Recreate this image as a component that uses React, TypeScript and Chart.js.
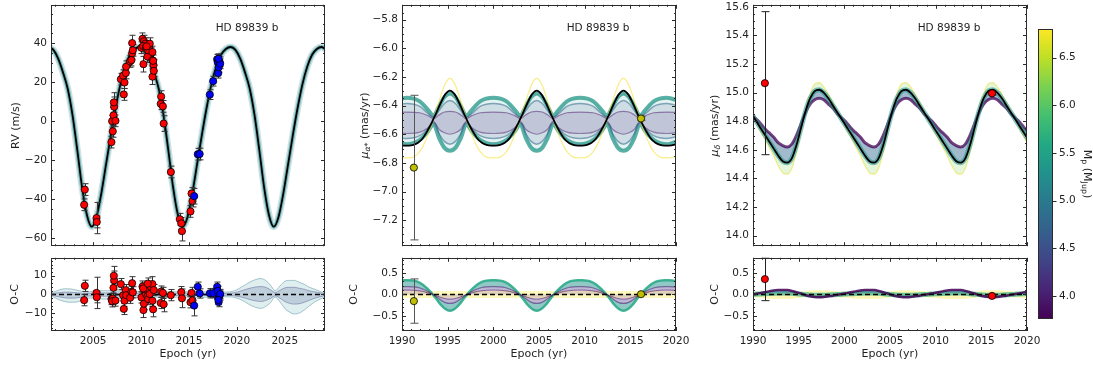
import React, { useEffect, useRef } from 'react';
import { Chart, registerables } from 'chart.js';

Chart.register(...registerables);

const FONT = "'DejaVu Sans', 'Liberation Sans', sans-serif";
const INK = '#1f1f1f';
const FRAME = '#2b2b2b';
const TICK_SIZE = 10.5;
const TITLE_SIZE = 11;
const YW = 60;
Chart.defaults.font.family = FONT;

// ---------------- axis ranges & tick labels ----------------
const RV_XMIN = 2000.6, RV_XMAX = 2029.2;
const MU_XMIN = 1990, MU_XMAX = 2020;
const RV_YMIN = -64, RV_YMAX = 59.6;
const RVOC_YMIN = -19.6, RVOC_YMAX = 19.6;
const MUA_YMIN = -7.382, MUA_YMAX = -5.696;
const MUD_YMIN = 13.926, MUD_YMAX = 15.614;
const OC_YMIN = -0.85, OC_YMAX = 0.85;
const MASS_MIN = 3.76, MASS_MAX = 6.8;

const RV_XTICKS = [2005, 2010, 2015, 2020, 2025];
const MU_XTICKS = [1990, 1995, 2000, 2005, 2010, 2015, 2020];
const RV_YTICKS = [-60, -40, -20, 0, 20, 40];
const RVOC_YTICKS = [-10, 0, 10];
const MUA_YTICKS = [-7.2, -7.0, -6.8, -6.6, -6.4, -6.2, -6.0, -5.8];
const MUD_YTICKS = [14.0, 14.2, 14.4, 14.6, 14.8, 15.0, 15.2, 15.4, 15.6];
const OC_YTICKS = [-0.5, 0, 0.5];
const MASS_TICKS = [4.0, 4.5, 5.0, 5.5, 6.0, 6.5];
const ZERO = [0, 0];

// ---------------- RV data ----------------
const RV_RED_T = [2004.06, 2004.13, 2005.35, 2005.38, 2006.91, 2007.05, 2006.98, 2007.12, 2007.19, 2007.16, 2007.33, 2008.2, 2007.89, 2008.13, 2008.27, 2008.41, 2008.44, 2008.86, 2009.0, 2009.07, 2009.14, 2009.07, 2010.15, 2010.3, 2010.43, 2010.04, 2010.22, 2010.5, 2010.85, 2011.02, 2010.25, 2010.67, 2011.19, 2011.3, 2011.19, 2010.74, 2010.91, 2011.19, 2011.26, 2011.33, 2010.57, 2012.1, 2012.05, 2012.28, 2012.36, 2013.11, 2014.05, 2014.2, 2014.27, 2015.16, 2015.27, 2015.37];
const RV_RED_V = [-42.8, -35.0, -49.6, -51.6, -10.7, -5.2, 0.0, 3.0, 7.4, 9.6, 0.2, 13.7, 21.5, 23.3, 19.8, 24.7, 27.9, 30.6, 31.3, 34.8, 36.3, 40.0, 42.2, 41.0, 39.7, 37.6, 38.5, 38.0, 37.6, 34.6, 29.2, 33.1, 31.2, 28.7, 22.8, 36.3, 39.7, 35.4, 30.9, 25.8, 38.3, 12.6, 8.9, 7.6, -1.2, -26.0, -50.2, -52.3, -56.3, -46.2, -37.0, -40.9];
const RV_RED_E = [3, 3, 8, 3, 3, 3, 3, 4, 5, 5, 3, 3, 3, 3, 3, 3, 3, 3, 3, 3, 3, 4, 3, 3, 3, 3, 3, 3, 3, 3, 4, 3, 3, 3, 4, 3, 3, 3, 3, 3, 3, 3, 3, 3, 4, 3, 3, 3, 5, 3, 3, 3];
const RV_BLUE_T = [2015.55, 2015.92, 2016.12, 2017.18, 2017.53, 2017.94, 2018.0, 2018.05, 2018.1, 2018.2, 2018.26, 2018.08];
const RV_BLUE_V = [-38.4, -16.9, -16.8, 13.6, 20.5, 31.7, 30.3, 24.6, 27.6, 30.4, 29.4, 32.0];
const RV_BLUE_E = [4, 3, 3, 2.5, 2.5, 2.5, 2.5, 2.5, 2.5, 2.5, 2.5, 2.5];

const RVOC_RED_T = [2004.13, 2004.06, 2005.35, 2005.38, 2006.91, 2007.05, 2006.98, 2007.12, 2007.19, 2007.16, 2007.33, 2008.2, 2007.89, 2008.13, 2008.27, 2008.41, 2008.44, 2008.86, 2009.0, 2009.07, 2009.14, 2010.04, 2010.15, 2010.25, 2010.3, 2010.43, 2010.5, 2010.57, 2010.67, 2010.74, 2010.85, 2010.91, 2011.02, 2011.19, 2011.19, 2011.26, 2011.33, 2010.22, 2010.7, 2012.1, 2012.05, 2012.28, 2012.36, 2013.11, 2014.2, 2014.27, 2015.16, 2015.27, 2015.37];
const RVOC_RED_V = [4.6, -3.1, 0.8, -1.5, -2.5, -2.2, -3.7, 3.5, 7.5, 10.0, -3.3, -7.8, 5.5, -0.5, -3.4, 2.3, -0.4, -1.8, 1.4, 6.0, 1.1, -1.6, 4.2, -8.4, -5.0, 1.9, 0.2, 2.5, -1.1, -2.5, 2.8, 0.2, 4.1, 5.5, -3.4, -8.0, 2.3, 3.2, 5.8, 1.5, -4.6, 0.8, -5.3, -0.4, 1.2, -2.1, -4.2, 0.8, -3.2];
const RVOC_RED_E = [3, 3, 8.4, 3, 3, 3, 3, 3, 5, 5, 3, 3, 3, 3, 3, 3, 3, 3, 3, 3.5, 3, 3, 3, 4, 3, 3, 3, 3, 3, 3, 3, 3, 3, 4, 3, 4, 3, 3, 3, 3, 3, 3, 4, 3, 3, 5, 3, 3, 3];
const RVOC_BLUE_T = [2015.55, 2015.92, 2016.12, 2017.18, 2017.53, 2017.94, 2018.0, 2018.05, 2018.1, 2018.2, 2018.26, 2018.08];
const RVOC_BLUE_V = [-6.0, 4.1, 0.5, 0.6, 0.7, 4.1, 1.9, -2.1, -4.1, -0.6, 0.2, -3.0];
const RVOC_BLUE_E = [5.5, 2.5, 2.5, 2.5, 2.5, 2.5, 2.5, 2.5, 2.5, 2.5, 2.5, 2.5];

// best-fit RV orbit
const RV_MODEL_T = [2000.35, 2000.85, 2001.35, 2001.85, 2002.35, 2002.85, 2003.35, 2003.85, 2004.35, 2004.85,
  2005.35, 2005.85, 2006.35, 2006.85, 2007.35, 2007.85, 2008.35, 2008.85, 2009.35, 2009.85,
  2010.35, 2010.85, 2011.35, 2011.85, 2012.35, 2012.85, 2013.35, 2013.85, 2014.35, 2014.85,
  2015.35, 2015.85, 2016.35, 2016.85, 2017.35, 2017.85, 2018.35, 2018.85, 2019.35, 2019.85,
  2020.35, 2020.85, 2021.35, 2021.85, 2022.35, 2022.85, 2023.35, 2023.85, 2024.35, 2024.85,
  2025.35, 2025.85, 2026.35, 2026.85, 2027.35, 2027.85, 2028.35, 2028.85, 2029.35];
const RV_MODEL_V = [38, 36.5, 32, 25, 16.5, 3, -15, -34, -48, -54,
  -49, -37, -22, -7, 7, 19, 28, 34, 37,
  38, 36.5, 32, 25, 16.5, 3, -15, -34, -48, -54,
  -49, -37, -22, -7, 7, 19, 28, 34, 37,
  38, 36.5, 32, 25, 16.5, 3, -15, -34, -48, -54,
  -49, -37, -22, -7, 7, 19, 28, 34, 37,
  38, 36.5];

// RV residual spread of posterior orbits
const RVOC_T = [2000.5, 2001, 2001.5, 2002, 2002.5, 2003, 2003.5, 2004, 2004.5, 2005, 2005.5, 2006, 2006.5, 2007, 2007.5, 2008, 2008.5,
  2009, 2009.5, 2010, 2010.5, 2011, 2011.5, 2012, 2012.5, 2013, 2013.5, 2014, 2014.5, 2015, 2015.5, 2016, 2016.5, 2017, 2017.5, 2018, 2018.5,
  2019, 2019.5, 2020, 2020.5, 2021, 2021.5, 2022, 2022.5, 2023, 2023.5, 2024, 2024.5, 2025, 2025.5, 2026, 2026.5, 2027, 2027.5, 2028, 2028.5, 2029, 2029.5];
const RVOC_OUT_HI = [0.5, 1.5, 2.5, 3.0, 3.0, 2.6, 2.0, 1.5, 1.3, 1.8, 2.0, 2.0, 2.0, 1.9, 1.8, 1.7, 1.6,
  1.5, 1.5, 1.5, 1.4, 1.4, 1.4, 1.4, 1.4, 1.4, 1.4, 1.4, 1.4, 1.4, 1.4, 1.4, 1.4, 1.4, 1.4, 1.3, 1.3,
  1.3, 1.6, 2.5, 4.0, 5.5, 7.0, 8.0, 8.5, 7.5, 5.0, 2.0, 4.5, 7.0, 7.5, 7.5, 6.5, 5.5, 4.0, 3.0, 2.0, 1.0, 0.5];
const RVOC_OUT_LO = [-0.5, -1.8, -3.0, -3.8, -4.2, -4.2, -3.8, -3.0, -2.0, -2.0, -2.3, -2.5, -2.5, -2.4, -2.2, -2.0, -1.8,
  -1.6, -1.5, -1.5, -1.5, -1.5, -1.5, -1.5, -1.5, -1.5, -1.5, -1.5, -1.5, -1.5, -1.5, -1.5, -1.5, -1.5, -1.5, -1.4, -1.3,
  -1.3, -1.4, -2.0, -3.0, -4.5, -6.0, -7.0, -7.5, -6.5, -4.5, -1.5, -4.0, -7.5, -9.5, -10.5, -10.0, -8.5, -6.5, -4.5, -3.0, -1.8, -1.0];
const RVOC_IN_HI = [0.2, 0.6, 1.0, 1.2, 1.2, 1.0, 0.8, 0.6, 0.5, 0.7, 0.8, 0.8, 0.8, 0.8, 0.7, 0.7, 0.6,
  0.6, 0.6, 0.6, 0.6, 0.6, 0.6, 0.6, 0.6, 0.6, 0.6, 0.6, 0.6, 0.6, 0.6, 0.6, 0.6, 0.6, 0.6, 0.6, 0.6,
  0.5, 0.7, 1.2, 2.0, 2.8, 3.5, 4.0, 4.2, 3.8, 2.5, 1.0, 2.2, 3.5, 3.8, 3.8, 3.3, 2.8, 2.0, 1.5, 1.0, 0.5, 0.3];
const RVOC_IN_LO = [-0.2, -0.8, -1.4, -1.8, -2.0, -2.0, -1.7, -1.3, -0.9, -0.8, -0.9, -1.0, -1.0, -0.9, -0.9, -0.8, -0.7,
  -0.6, -0.6, -0.6, -0.6, -0.6, -0.6, -0.6, -0.6, -0.6, -0.6, -0.6, -0.6, -0.6, -0.6, -0.6, -0.6, -0.6, -0.6, -0.6, -0.6,
  -0.5, -0.6, -1.0, -1.5, -2.2, -3.0, -3.5, -3.8, -3.3, -2.2, -0.8, -2.0, -3.8, -4.8, -5.2, -5.0, -4.3, -3.3, -2.3, -1.5, -0.9, -0.5];

// ---------------- proper motion data ----------------
const MUA_T = [1991.3, 2016.17];
const MUA_V = [-6.833, -6.49];
const MUA_E = [0.505, 0.012];
const MUA_OC_V = [-0.155, 0.005];
const MUA_OC_E = [0.515, 0.012];
const MUD_T = [1991.3, 2016.17];
const MUD_V = [15.066, 14.995];
const MUD_E = [0.5, 0.012];
const MUD_OC_V = [0.355, -0.035];
const MUD_OC_E = [0.5, 0.012];

const MU_T = [1989.75, 1990.25, 1990.75, 1991.25, 1991.75, 1992.25, 1992.75, 1993.25, 1993.75, 1994.25, 1994.75, 1995.25, 1995.75, 1996.25, 1996.75, 1997.25, 1997.75, 1998.25, 1998.75, 1999.25, 1999.75,
  2000.25, 2000.75, 2001.25, 2001.75, 2002.25, 2002.75, 2003.25, 2003.75, 2004.25, 2004.75, 2005.25, 2005.75, 2006.25, 2006.75, 2007.25, 2007.75, 2008.25, 2008.75, 2009.25,
  2009.75, 2010.25, 2010.75, 2011.25, 2011.75, 2012.25, 2012.75, 2013.25, 2013.75, 2014.25, 2014.75, 2015.25, 2015.75, 2016.25, 2016.75, 2017.25, 2017.75, 2018.25, 2018.75,
  2019.25, 2019.75, 2020.25];

const MUA_MODEL = [-6.675, -6.68, -6.68, -6.675, -6.66, -6.63, -6.58, -6.52, -6.45, -6.38, -6.32, -6.295, -6.32, -6.38, -6.45, -6.52, -6.58, -6.63, -6.66, -6.675, -6.68,
  -6.68, -6.675, -6.66, -6.63, -6.58, -6.52, -6.45, -6.38, -6.32, -6.295, -6.32, -6.38, -6.45, -6.52, -6.58, -6.63, -6.66, -6.675, -6.68,
  -6.68, -6.675, -6.66, -6.63, -6.58, -6.52, -6.45, -6.38, -6.32, -6.295, -6.32, -6.38, -6.45, -6.52, -6.58, -6.63, -6.66, -6.675, -6.68,
  -6.68, -6.675, -6.66];
const MUA_YELLOW = [-6.76, -6.765, -6.765, -6.76, -6.735, -6.69, -6.62, -6.535, -6.43, -6.33, -6.245, -6.21, -6.245, -6.33, -6.43, -6.535, -6.62, -6.69, -6.735, -6.76, -6.765,
  -6.765, -6.76, -6.735, -6.69, -6.62, -6.535, -6.43, -6.33, -6.245, -6.21, -6.245, -6.33, -6.43, -6.535, -6.62, -6.69, -6.735, -6.76, -6.765,
  -6.765, -6.76, -6.735, -6.69, -6.62, -6.535, -6.43, -6.33, -6.245, -6.21, -6.245, -6.33, -6.43, -6.535, -6.62, -6.69, -6.735, -6.76, -6.765,
  -6.765, -6.76, -6.735];
const MUA_OC_TEAL = [0.32, 0.33, 0.33, 0.32, 0.29, 0.23, 0.14, 0.03, -0.10, -0.24, -0.34, -0.38, -0.34, -0.24, -0.10, 0.03, 0.14, 0.23, 0.29, 0.32, 0.33,
  0.33, 0.32, 0.29, 0.23, 0.14, 0.03, -0.10, -0.24, -0.34, -0.38, -0.34, -0.24, -0.10, 0.03, 0.14, 0.23, 0.29, 0.32, 0.33,
  0.33, 0.32, 0.29, 0.23, 0.14, 0.03, -0.10, -0.24, -0.34, -0.38, -0.34, -0.24, -0.10, 0.03, 0.14, 0.23, 0.29, 0.32, 0.33,
  0.33, 0.32, 0.29];
const MUA_OC_PURPLE = [0.175, 0.18, 0.18, 0.175, 0.16, 0.125, 0.08, 0.015, -0.055, -0.13, -0.19, -0.21, -0.19, -0.13, -0.055, 0.015, 0.08, 0.125, 0.16, 0.175, 0.18,
  0.18, 0.175, 0.16, 0.125, 0.08, 0.015, -0.055, -0.13, -0.19, -0.21, -0.19, -0.13, -0.055, 0.015, 0.08, 0.125, 0.16, 0.175, 0.18,
  0.18, 0.175, 0.16, 0.125, 0.08, 0.015, -0.055, -0.13, -0.19, -0.21, -0.19, -0.13, -0.055, 0.015, 0.08, 0.125, 0.16, 0.175, 0.18,
  0.18, 0.175, 0.16];
const MUA_OC_DARK = [0.095, 0.1, 0.1, 0.095, 0.085, 0.07, 0.04, 0.01, -0.03, -0.07, -0.1, -0.11, -0.1, -0.07, -0.03, 0.01, 0.04, 0.07, 0.085, 0.095, 0.1,
  0.1, 0.095, 0.085, 0.07, 0.04, 0.01, -0.03, -0.07, -0.1, -0.11, -0.1, -0.07, -0.03, 0.01, 0.04, 0.07, 0.085, 0.095, 0.1,
  0.1, 0.095, 0.085, 0.07, 0.04, 0.01, -0.03, -0.07, -0.1, -0.11, -0.1, -0.07, -0.03, 0.01, 0.04, 0.07, 0.085, 0.095, 0.1,
  0.1, 0.095, 0.085];

// envelopes of the posterior mu_alpha curves (lens shapes)
const ENV_T = [1989.05, 1990.5, 1991.95, 1992.85, 1993.45, 1994.05, 1994.65, 1995.25, 1995.85, 1996.45, 1997.05, 1997.65, 1998.55,
  2000.0, 2001.45, 2002.35, 2002.95, 2003.55, 2004.15, 2004.75, 2005.35, 2005.95, 2006.55, 2007.15, 2008.05,
  2009.5, 2010.95, 2011.85, 2012.45, 2013.05, 2013.65, 2014.25, 2014.85, 2015.45, 2016.05, 2016.65, 2017.55, 2019.0, 2020.45];
const MUA_ENV_HI = [-6.37, -6.345, -6.37, -6.43, -6.47, -6.405, -6.34, -6.315, -6.34, -6.405, -6.47, -6.43, -6.37,
  -6.345, -6.37, -6.43, -6.47, -6.405, -6.34, -6.315, -6.34, -6.405, -6.47, -6.43, -6.37,
  -6.345, -6.37, -6.43, -6.47, -6.405, -6.34, -6.315, -6.34, -6.405, -6.47, -6.43, -6.37, -6.345, -6.37];
const MUA_ENV_LO = [-6.64, -6.67, -6.64, -6.58, -6.53, -6.625, -6.695, -6.715, -6.695, -6.625, -6.53, -6.58, -6.64,
  -6.67, -6.64, -6.58, -6.53, -6.625, -6.695, -6.715, -6.695, -6.625, -6.53, -6.58, -6.64,
  -6.67, -6.64, -6.58, -6.53, -6.625, -6.695, -6.715, -6.695, -6.625, -6.53, -6.58, -6.64, -6.67, -6.64];
const MUA_MID_HI = [-6.405, -6.385, -6.405, -6.455, -6.48, -6.435, -6.385, -6.365, -6.385, -6.435, -6.48, -6.455, -6.405,
  -6.385, -6.405, -6.455, -6.48, -6.435, -6.385, -6.365, -6.385, -6.435, -6.48, -6.455, -6.405,
  -6.385, -6.405, -6.455, -6.48, -6.435, -6.385, -6.365, -6.385, -6.435, -6.48, -6.455, -6.405, -6.385, -6.405];
const MUA_MID_LO = [-6.61, -6.63, -6.61, -6.56, -6.52, -6.595, -6.65, -6.67, -6.65, -6.595, -6.52, -6.56, -6.61,
  -6.63, -6.61, -6.56, -6.52, -6.595, -6.65, -6.67, -6.65, -6.595, -6.52, -6.56, -6.61,
  -6.63, -6.61, -6.56, -6.52, -6.595, -6.65, -6.67, -6.65, -6.595, -6.52, -6.56, -6.61, -6.63, -6.61];
const MUA_IN_HI = [-6.45, -6.445, -6.45, -6.47, -6.49, -6.465, -6.445, -6.44, -6.445, -6.465, -6.49, -6.47, -6.45,
  -6.445, -6.45, -6.47, -6.49, -6.465, -6.445, -6.44, -6.445, -6.465, -6.49, -6.47, -6.45,
  -6.445, -6.45, -6.47, -6.49, -6.465, -6.445, -6.44, -6.445, -6.465, -6.49, -6.47, -6.45, -6.445, -6.45];
const MUA_IN_LO = [-6.585, -6.595, -6.585, -6.555, -6.51, -6.565, -6.59, -6.6, -6.59, -6.565, -6.51, -6.555, -6.585,
  -6.595, -6.585, -6.555, -6.51, -6.565, -6.59, -6.6, -6.59, -6.565, -6.51, -6.555, -6.585,
  -6.595, -6.585, -6.555, -6.51, -6.565, -6.59, -6.6, -6.59, -6.565, -6.51, -6.555, -6.585, -6.595, -6.585];

const MUD_MODEL = [14.86, 14.81, 14.76, 14.71, 14.66, 14.61, 14.56, 14.52,
  14.51, 14.54, 14.63, 14.75, 14.87, 14.96, 15.01, 15.02, 15.0, 14.96, 14.91, 14.86, 14.81, 14.76, 14.71, 14.66, 14.61, 14.56, 14.52,
  14.51, 14.54, 14.63, 14.75, 14.87, 14.96, 15.01, 15.02, 15.0, 14.96, 14.91, 14.86, 14.81, 14.76, 14.71, 14.66, 14.61, 14.56, 14.52,
  14.51, 14.54, 14.63, 14.75, 14.87, 14.96, 15.01, 15.02, 15.0, 14.96, 14.91, 14.86, 14.81, 14.76, 14.71, 14.66];
const MUD_PURPLE = [14.85, 14.82, 14.79, 14.75, 14.72, 14.69, 14.65, 14.63,
  14.62, 14.64, 14.7, 14.78, 14.86, 14.92, 14.95, 14.96, 14.95, 14.92, 14.89, 14.85, 14.82, 14.79, 14.75, 14.72, 14.69, 14.65, 14.63,
  14.62, 14.64, 14.7, 14.78, 14.86, 14.92, 14.95, 14.96, 14.95, 14.92, 14.89, 14.85, 14.82, 14.79, 14.75, 14.72, 14.69, 14.65, 14.63,
  14.62, 14.64, 14.7, 14.78, 14.86, 14.92, 14.95, 14.96, 14.95, 14.92, 14.89, 14.85, 14.82, 14.79, 14.75, 14.72];
const MUD_YELLOW = [14.87, 14.81, 14.74, 14.68, 14.62, 14.56, 14.49, 14.44,
  14.43, 14.47, 14.58, 14.73, 14.88, 14.99, 15.06, 15.07, 15.04, 14.99, 14.93, 14.87, 14.81, 14.74, 14.68, 14.62, 14.56, 14.49, 14.44,
  14.43, 14.47, 14.58, 14.73, 14.88, 14.99, 15.06, 15.07, 15.04, 14.99, 14.93, 14.87, 14.81, 14.74, 14.68, 14.62, 14.56, 14.49, 14.44,
  14.43, 14.47, 14.58, 14.73, 14.88, 14.99, 15.06, 15.07, 15.04, 14.99, 14.93, 14.87, 14.81, 14.74, 14.68, 14.62];
const MUD_OC_PURPLE = [-0.01, 0.01, 0.03, 0.05, 0.07, 0.09, 0.1, 0.105,
  0.1, 0.08, 0.05, 0.02, -0.02, -0.045, -0.06, -0.065, -0.06, -0.045, -0.03, -0.01, 0.01, 0.03, 0.05, 0.07, 0.09, 0.1, 0.105,
  0.1, 0.08, 0.05, 0.02, -0.02, -0.045, -0.06, -0.065, -0.06, -0.045, -0.03, -0.01, 0.01, 0.03, 0.05, 0.07, 0.09, 0.1, 0.105,
  0.1, 0.08, 0.05, 0.02, -0.02, -0.045, -0.06, -0.065, -0.06, -0.045, -0.03, -0.01, 0.01, 0.03, 0.05, 0.07];
const MUD_OC_TEAL = [-0.005, 0.005, 0.01, 0.015, 0.02, 0.025, 0.03, 0.03,
  0.03, 0.025, 0.015, 0.005, -0.005, -0.015, -0.02, -0.02, -0.02, -0.015, -0.01, -0.005, 0.005, 0.01, 0.015, 0.02, 0.025, 0.03, 0.03,
  0.03, 0.025, 0.015, 0.005, -0.005, -0.015, -0.02, -0.02, -0.02, -0.015, -0.01, -0.005, 0.005, 0.01, 0.015, 0.02, 0.025, 0.03, 0.03,
  0.03, 0.025, 0.015, 0.005, -0.005, -0.015, -0.02, -0.02, -0.02, -0.015, -0.01, -0.005, 0.005, 0.01, 0.015, 0.02];
const MUD_OC_YELLOW = [0.005, -0.005, -0.01, -0.02, -0.03, -0.035, -0.04, -0.04,
  -0.04, -0.03, -0.02, -0.01, 0.01, 0.02, 0.025, 0.025, 0.025, 0.02, 0.01, 0.005, -0.005, -0.01, -0.02, -0.03, -0.035, -0.04, -0.04,
  -0.04, -0.03, -0.02, -0.01, 0.01, 0.02, 0.025, 0.025, 0.025, 0.02, 0.01, 0.005, -0.005, -0.01, -0.02, -0.03, -0.035, -0.04, -0.04,
  -0.04, -0.03, -0.02, -0.01, 0.01, 0.02, 0.025, 0.025, 0.025, 0.02, 0.01, 0.005, -0.005, -0.01, -0.02, -0.03];

const VIRIDIS = ['#440154', '#482475', '#414487', '#355f8d', '#2a788e', '#21918c', '#22a884', '#44bf70', '#7ad151', '#bddf26', '#fde725'];

// ---------------- helpers ----------------
type Part = { t: string; sub?: boolean; it?: boolean };
type Title = { parts: Part[]; side: 'left' | 'bottom' | 'right'; off: number };
type Deco = { xMajor: number[]; xMinor: number; yMajor: number[]; yMinor: number; titles: Title[]; note?: string; colorbar?: boolean };

function pts(xs: number[], ys: number[]) {
  return xs.map((x, i) => ({ x, y: ys[i] }));
}
function fmt(v: number, d: number) {
  const s = Math.abs(v).toFixed(d);
  return (v < -1e-9 ? '\u2212' : '') + s;
}

function drawRich(ctx: CanvasRenderingContext2D, parts: Part[], x: number, y: number, rot: number, size: number) {
  ctx.save();
  ctx.translate(x, y);
  ctx.rotate(rot);
  ctx.textBaseline = 'middle';
  ctx.textAlign = 'left';
  ctx.fillStyle = INK;
  const fontOf = (p: Part) => `${p.it ? 'italic ' : ''}${p.sub ? Math.round(size * 0.72 * 10) / 10 : size}px ${FONT}`;
  const widths = parts.map((p) => {
    ctx.font = fontOf(p);
    return ctx.measureText(p.t).width;
  });
  const total = widths.reduce((s, w) => s + w, 0);
  let cx = -total / 2;
  parts.forEach((p, i) => {
    ctx.font = fontOf(p);
    ctx.fillText(p.t, cx, p.sub ? size * 0.3 : 0);
    cx += widths[i];
  });
  ctx.restore();
}

function makeDeco(cfg: Deco) {
  return {
    id: 'deco',
    beforeDatasetsDraw(chart: any) {
      if (!cfg.colorbar) return;
      const { ctx, chartArea: a } = chart;
      const g = ctx.createLinearGradient(0, a.bottom, 0, a.top);
      VIRIDIS.forEach((c, i) => g.addColorStop(i / (VIRIDIS.length - 1), c));
      ctx.save();
      ctx.fillStyle = g;
      ctx.fillRect(a.left, a.top, a.right - a.left, a.bottom - a.top);
      ctx.restore();
    },
    beforeDatasetDraw(chart: any, args: any) {
      const ds: any = chart.data.datasets[args.index];
      if (!ds.errs) return;
      const { ctx, chartArea: a } = chart;
      const xs = chart.scales.x, ys = chart.scales.y;
      const cap = ds.cap || 3;
      ctx.save();
      ctx.beginPath();
      ctx.rect(a.left, a.top, a.right - a.left, a.bottom - a.top);
      ctx.clip();
      ctx.strokeStyle = ds.errColor || '#333';
      ctx.lineWidth = 1;
      ds.data.forEach((p: any, i: number) => {
        const e = ds.errs[i];
        const x = Math.round(xs.getPixelForValue(p.x)) + 0.5;
        const y1 = ys.getPixelForValue(p.y + e);
        const y2 = ys.getPixelForValue(p.y - e);
        ctx.beginPath();
        ctx.moveTo(x, y1); ctx.lineTo(x, y2);
        ctx.moveTo(x - cap, y1); ctx.lineTo(x + cap, y1);
        ctx.moveTo(x - cap, y2); ctx.lineTo(x + cap, y2);
        ctx.stroke();
      });
      ctx.restore();
    },
    afterDraw(chart: any) {
      const { ctx, chartArea: a } = chart;
      const xs = chart.scales.x, ys = chart.scales.y;
      ctx.save();
      ctx.strokeStyle = FRAME;
      ctx.lineWidth = 1;
      const snap = (v: number) => Math.round(v) + 0.5;
      const seg = (x1: number, y1: number, x2: number, y2: number) => {
        ctx.beginPath(); ctx.moveTo(x1, y1); ctx.lineTo(x2, y2); ctx.stroke();
      };
      if (cfg.colorbar) {
        cfg.yMajor.forEach((v) => {
          const p = snap(ys.getPixelForValue(v));
          seg(a.right, p, a.right + 3.5, p);
        });
      } else {
        const marks = (sc: any, major: number[], step: number, isX: boolean) => {
          const lo = Math.min(sc.min, sc.max), hi = Math.max(sc.min, sc.max);
          const draw = (v: number, len: number) => {
            const p = snap(sc.getPixelForValue(v));
            if (isX) { seg(p, a.bottom, p, a.bottom - len); seg(p, a.top, p, a.top + len); }
            else { seg(a.left, p, a.left + len, p); seg(a.right, p, a.right - len, p); }
          };
          const n0 = Math.ceil(lo / step - 1e-6), n1 = Math.floor(hi / step + 1e-6);
          for (let n = n0; n <= n1; n++) {
            const v = n * step;
            if (!major.some((m) => Math.abs(m - v) < step / 10)) draw(v, 2);
          }
          major.filter((v) => v >= lo - 1e-9 && v <= hi + 1e-9).forEach((v) => draw(v, 4));
        };
        marks(xs, cfg.xMajor, cfg.xMinor, true);
        marks(ys, cfg.yMajor, cfg.yMinor, false);
      }
      ctx.strokeRect(Math.round(a.left) + 0.5, Math.round(a.top) + 0.5, Math.round(a.right - a.left) - 1, Math.round(a.bottom - a.top) - 1);
      const cy = (a.top + a.bottom) / 2, cx = (a.left + a.right) / 2;
      cfg.titles.forEach((t) => {
        if (t.side === 'left') drawRich(ctx, t.parts, a.left - t.off, cy, -Math.PI / 2, TITLE_SIZE);
        else if (t.side === 'right') drawRich(ctx, t.parts, a.right + t.off, cy, Math.PI / 2, TITLE_SIZE);
        else drawRich(ctx, t.parts, cx, a.bottom + t.off, 0, TITLE_SIZE);
      });
      if (cfg.note) {
        ctx.font = `${TICK_SIZE}px ${FONT}`;
        ctx.fillStyle = INK;
        ctx.textAlign = 'center';
        ctx.textBaseline = 'middle';
        ctx.fillText(cfg.note, a.left + 196, a.top + 23);
      }
      ctx.restore();
    },
  };
}

function axis(kind: 'x' | 'y', min: number, max: number, ticks: number[], dec: number, show: boolean, size: number, position?: string, pad = 4) {
  return {
    type: 'linear',
    min,
    max,
    position: position || (kind === 'x' ? 'bottom' : 'left'),
    display: show,
    grid: { display: false, drawTicks: false },
    border: { display: false },
    ticks: {
      color: INK,
      font: { family: FONT, size: TICK_SIZE },
      padding: pad,
      autoSkip: false,
      maxRotation: 0,
      callback: (v: any) => fmt(Number(v), dec),
    },
    afterBuildTicks: (s: any) => {
      s.ticks = ticks.filter((v) => v >= Math.min(min, max) - 1e-9 && v <= Math.max(min, max) + 1e-9).map((v) => ({ value: v }));
    },
    afterFit: (s: any) => {
      if (kind === 'x') { s.height = size; s.paddingLeft = 0; s.paddingRight = 0; }
      else { s.width = size; s.paddingTop = 0; s.paddingBottom = 0; }
    },
  };
}

function options(x: any, y: any, padding: any) {
  return {
    responsive: false,
    maintainAspectRatio: false,
    animation: false,
    events: [],
    layout: { padding },
    plugins: { legend: { display: false }, tooltip: { enabled: false } },
    scales: { x, y },
  };
}

function line(xs: number[], ys: number[], color: string, width: number, order: number, extra: any = {}) {
  return { data: pts(xs, ys), borderColor: color, borderWidth: width, pointRadius: 0, fill: false, cubicInterpolationMode: 'monotone', clip: 0, order, ...extra };
}
function marks(xs: number[], ys: number[], errs: number[], color: string, order: number, errColor = '#333', cap = 3, r = 3.6) {
  return {
    data: pts(xs, ys), errs, errColor, cap, showLine: false, pointRadius: r,
    pointBackgroundColor: color, pointBorderColor: '#000', pointBorderWidth: 0.8, order,
  };
}

const TOP_PAD = { top: 4, right: 16, bottom: 3, left: 0 };
const BOT_PAD = { top: 4, right: 16, bottom: 0, left: 0 };
const PANEL_LEFT = [51, 402, 753];
const PANEL_W = YW + 274 + 16;

const OC_TITLE: Part[] = [{ t: 'O-C' }];
const EPOCH_TITLE: Part[] = [{ t: 'Epoch (yr)' }];
const NOTE = 'HD 89839 b';

type Cfg = { left: number; top: number; w: number; h: number; make: () => any };

const CHARTS: Cfg[] = [
  // RV top
  {
    left: PANEL_LEFT[0] - YW, top: 0, w: PANEL_W, h: 251,
    make: () => ({
      type: 'line',
      data: {
        datasets: [
          marks(RV_BLUE_T, RV_BLUE_V, RV_BLUE_E, '#0000ff', 0),
          marks(RV_RED_T, RV_RED_V, RV_RED_E, '#ff0000', 1),
          line(RV_MODEL_T, RV_MODEL_V, '#000000', 1.8, 2),
          line(RV_MODEL_T, RV_MODEL_V, 'rgba(33,145,140,0.55)', 4, 3),
          line(RV_MODEL_T, RV_MODEL_V, 'rgba(42,120,142,0.22)', 7, 4),
        ],
      },
      options: options(axis('x', RV_XMIN, RV_XMAX, RV_XTICKS, 0, false, 0), axis('y', RV_YMIN, RV_YMAX, RV_YTICKS, 0, true, YW), TOP_PAD),
      plugins: [makeDeco({ xMajor: RV_XTICKS, xMinor: 1, yMajor: RV_YTICKS, yMinor: 5, titles: [{ parts: [{ t: 'RV (m/s)' }], side: 'left', off: 35 }], note: NOTE })],
    }),
  },
  // RV O-C
  {
    left: PANEL_LEFT[0] - YW, top: 253, w: PANEL_W, h: 114,
    make: () => ({
      type: 'line',
      data: {
        datasets: [
          marks(RVOC_BLUE_T, RVOC_BLUE_V, RVOC_BLUE_E, '#0000ff', 0),
          marks(RVOC_RED_T, RVOC_RED_V, RVOC_RED_E, '#ff0000', 1),
          line([RV_XMIN, RV_XMAX], ZERO, '#000000', 1.5, 2, { borderDash: [5, 3], cubicInterpolationMode: 'default' }),
          line(RVOC_T, RVOC_IN_HI, 'rgba(65,68,135,0.4)', 1, 3, { fill: '+1', backgroundColor: 'rgba(59,82,139,0.2)' }),
          line(RVOC_T, RVOC_IN_LO, 'rgba(65,68,135,0.4)', 1, 4),
          line(RVOC_T, RVOC_OUT_HI, 'rgba(42,120,142,0.4)', 1, 5, { fill: '+1', backgroundColor: 'rgba(42,140,142,0.15)' }),
          line(RVOC_T, RVOC_OUT_LO, 'rgba(42,120,142,0.4)', 1, 6),
        ],
      },
      options: options(axis('x', RV_XMIN, RV_XMAX, RV_XTICKS, 0, true, 36), axis('y', RVOC_YMIN, RVOC_YMAX, RVOC_YTICKS, 0, true, YW), BOT_PAD),
      plugins: [makeDeco({ xMajor: RV_XTICKS, xMinor: 1, yMajor: RVOC_YTICKS, yMinor: 2, titles: [{ parts: OC_TITLE, side: 'left', off: 36 }, { parts: EPOCH_TITLE, side: 'bottom', off: 23 }] })],
    }),
  },
  // mu alpha top
  {
    left: PANEL_LEFT[1] - YW, top: 0, w: PANEL_W, h: 251,
    make: () => ({
      type: 'line',
      data: {
        datasets: [
          marks(MUA_T, MUA_V, MUA_E, '#bfbf00', 0, '#555555', 4),
          line(MU_T, MUA_MODEL, '#000000', 1.8, 1),
          line(MU_T, MUA_YELLOW, 'rgba(245,225,60,0.6)', 1.2, 2),
          line(ENV_T, MUA_IN_HI, 'rgba(80,30,110,0.5)', 1.2, 3, { fill: '+1', backgroundColor: 'rgba(120,90,160,0.18)' }),
          line(ENV_T, MUA_IN_LO, 'rgba(80,30,110,0.5)', 1.2, 4),
          line(ENV_T, MUA_MID_HI, 'rgba(49,104,142,0.55)', 1.5, 5, { fill: '+1', backgroundColor: 'rgba(59,82,139,0.12)' }),
          line(ENV_T, MUA_MID_LO, 'rgba(49,104,142,0.55)', 1.5, 6),
          line(ENV_T, MUA_ENV_HI, 'rgba(34,150,135,0.75)', 4, 7, { fill: '+1', backgroundColor: 'rgba(33,145,140,0.12)' }),
          line(ENV_T, MUA_ENV_LO, 'rgba(34,150,135,0.75)', 4, 8),
        ],
      },
      options: options(axis('x', MU_XMIN, MU_XMAX, MU_XTICKS, 0, false, 0), axis('y', MUA_YMIN, MUA_YMAX, MUA_YTICKS, 1, true, YW), TOP_PAD),
      plugins: [makeDeco({
        xMajor: MU_XTICKS, xMinor: 1, yMajor: MUA_YTICKS, yMinor: 0.05,
        titles: [{ parts: [{ t: '\u03bc', it: true }, { t: '\u03b1*', sub: true, it: true }, { t: ' (mas/yr)' }], side: 'left', off: 37 }], note: NOTE,
      })],
    }),
  },
  // mu alpha O-C
  {
    left: PANEL_LEFT[1] - YW, top: 253, w: PANEL_W, h: 114,
    make: () => ({
      type: 'line',
      data: {
        datasets: [
          marks(MUA_T, MUA_OC_V, MUA_OC_E, '#bfbf00', 0, '#555555', 4),
          line([MU_XMIN, MU_XMAX], ZERO, '#000000', 1.5, 1, { borderDash: [5, 3], cubicInterpolationMode: 'default' }),
          line(MU_T, MUA_OC_DARK, 'rgba(68,1,84,0.55)', 1, 2, { fill: { value: 0 }, backgroundColor: 'rgba(130,100,170,0.25)' }),
          line(MU_T, MUA_OC_PURPLE, 'rgba(72,40,120,0.6)', 1.2, 3, { fill: '-1', backgroundColor: 'rgba(70,50,130,0.35)' }),
          line(MU_T, MUA_OC_TEAL, 'rgba(34,168,132,0.85)', 2.5, 4, { fill: '-1', backgroundColor: 'rgba(33,145,140,0.5)' }),
          line([MU_XMIN, MU_XMAX], ZERO, 'rgba(253,231,37,0.3)', 7, 5, { cubicInterpolationMode: 'default' }),
        ],
      },
      options: options(axis('x', MU_XMIN, MU_XMAX, MU_XTICKS, 0, true, 36), axis('y', OC_YMIN, OC_YMAX, OC_YTICKS, 1, true, YW), BOT_PAD),
      plugins: [makeDeco({ xMajor: MU_XTICKS, xMinor: 1, yMajor: OC_YTICKS, yMinor: 0.1, titles: [{ parts: OC_TITLE, side: 'left', off: 48 }, { parts: EPOCH_TITLE, side: 'bottom', off: 23 }] })],
    }),
  },
  // mu delta top
  {
    left: PANEL_LEFT[2] - YW, top: 0, w: PANEL_W, h: 251,
    make: () => ({
      type: 'line',
      data: {
        datasets: [
          marks(MUD_T, MUD_V, MUD_E, '#ff0000', 0, '#222222', 4),
          line(MU_T, MUD_MODEL, '#000000', 1.8, 1),
          line(MU_T, MUD_MODEL, 'rgba(33,145,140,0.55)', 5, 2),
          line(MU_T, MUD_PURPLE, 'rgba(68,1,84,0.75)', 3, 3, { fill: 1, backgroundColor: 'rgba(49,104,142,0.45)' }),
          line(MU_T, MUD_YELLOW, 'rgba(240,225,60,0.6)', 1.2, 4, { fill: 1, backgroundColor: 'rgba(122,209,81,0.2)' }),
        ],
      },
      options: options(axis('x', MU_XMIN, MU_XMAX, MU_XTICKS, 0, false, 0), axis('y', MUD_YMIN, MUD_YMAX, MUD_YTICKS, 1, true, YW), TOP_PAD),
      plugins: [makeDeco({
        xMajor: MU_XTICKS, xMinor: 1, yMajor: MUD_YTICKS, yMinor: 0.05,
        titles: [{ parts: [{ t: '\u03bc', it: true }, { t: '\u03b4', sub: true, it: true }, { t: ' (mas/yr)' }], side: 'left', off: 38 }], note: NOTE,
      })],
    }),
  },
  // mu delta O-C
  {
    left: PANEL_LEFT[2] - YW, top: 253, w: PANEL_W, h: 114,
    make: () => ({
      type: 'line',
      data: {
        datasets: [
          marks(MUD_T, MUD_OC_V, MUD_OC_E, '#ff0000', 0, '#222222', 4),
          line([MU_XMIN, MU_XMAX], ZERO, '#000000', 1.5, 1, { borderDash: [5, 3], cubicInterpolationMode: 'default' }),
          line(MU_T, MUD_OC_PURPLE, 'rgba(68,1,84,0.85)', 2.5, 2, { fill: 3, backgroundColor: 'rgba(49,104,142,0.35)' }),
          line(MU_T, MUD_OC_TEAL, 'rgba(34,168,132,0.65)', 5, 3),
          line(MU_T, MUD_OC_YELLOW, 'rgba(253,231,37,0.35)', 6, 4),
        ],
      },
      options: options(axis('x', MU_XMIN, MU_XMAX, MU_XTICKS, 0, true, 36), axis('y', OC_YMIN, OC_YMAX, OC_YTICKS, 1, true, YW), BOT_PAD),
      plugins: [makeDeco({ xMajor: MU_XTICKS, xMinor: 1, yMajor: OC_YTICKS, yMinor: 0.1, titles: [{ parts: OC_TITLE, side: 'left', off: 38 }, { parts: EPOCH_TITLE, side: 'bottom', off: 23 }] })],
    }),
  },
  // colorbar
  {
    left: 1030, top: 25, w: 63, h: 298,
    make: () => ({
      type: 'line',
      data: { datasets: [] },
      options: options(axis('x', 0, 1, [], 0, false, 0), axis('y', MASS_MIN, MASS_MAX, MASS_TICKS, 1, true, 40, 'right', 6), { top: 4, right: 0, bottom: 4, left: 8 }),
      plugins: [makeDeco({
        xMajor: [], xMinor: 1, yMajor: MASS_TICKS, yMinor: 0.1, colorbar: true,
        titles: [{ parts: [{ t: 'M' }, { t: 'p', sub: true }, { t: ' (M' }, { t: 'Jup', sub: true }, { t: ')' }], side: 'right', off: 34 }],
      })],
    }),
  },
];

function ChartBox({ cfg }: { cfg: Cfg }) {
  const ref = useRef<HTMLCanvasElement>(null);
  useEffect(() => {
    const chart = new Chart(ref.current as HTMLCanvasElement, cfg.make());
    return () => chart.destroy();
  }, []);
  return (
    <div style={{ position: 'absolute', left: cfg.left, top: cfg.top, width: cfg.w, height: cfg.h }}>
      <canvas ref={ref} width={cfg.w} height={cfg.h} style={{ width: cfg.w, height: cfg.h, display: 'block' }} />
    </div>
  );
}

export default function App() {
  return (
    <div style={{ position: 'fixed', left: 0, top: 0, width: 1093, height: 367, background: '#ffffff', overflow: 'hidden' }}>
      {CHARTS.map((c, i) => (
        <ChartBox key={i} cfg={c} />
      ))}
    </div>
  );
}
